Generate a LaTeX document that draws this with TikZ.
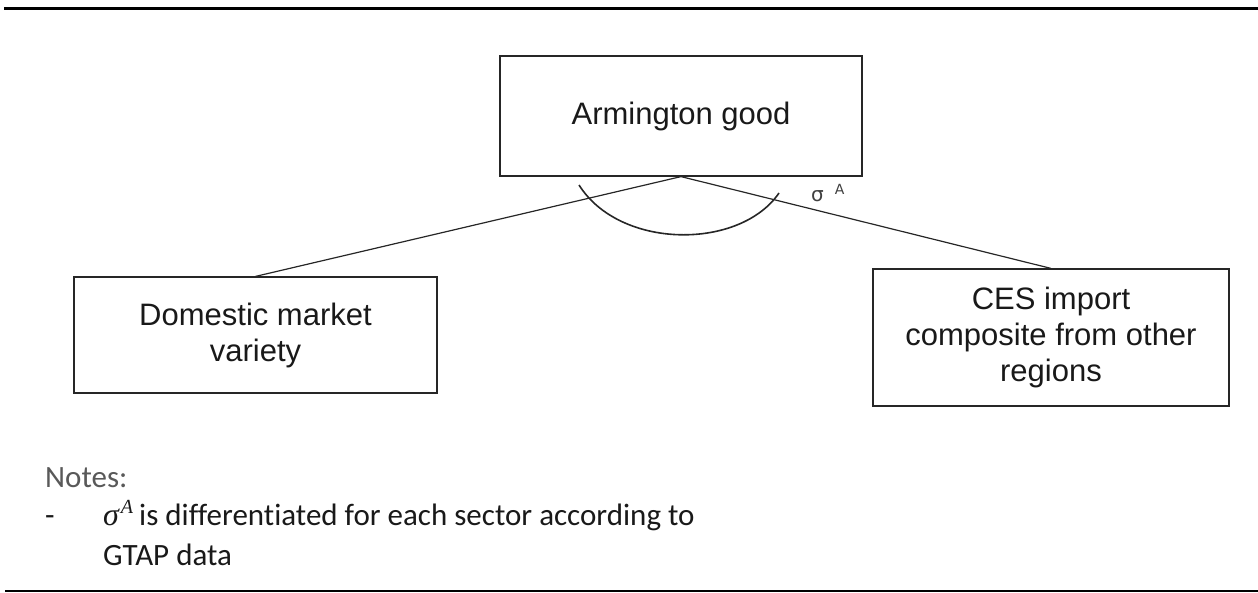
\documentclass[tikz,border=0pt]{standalone}
\usepackage{fontspec}
\setmainfont{Liberation Sans}
\newfontfamily\notesfont[Ligatures={NoCommon}]{Carlito}
\newfontfamily\dvfont{DejaVu Sans}
\newfontfamily\symitfont{Liberation Serif Italic}
\begin{document}
\begin{tikzpicture}[x=1pt,y=-1pt,
  box/.style={draw=black!85, line width=1.2pt, rectangle, inner sep=0pt, align=center,
              font=\fontsize{31}{36}\selectfont, text=black!90},
  conn/.style={draw=black!85, line width=1.2pt},
  notetext/.style={anchor=base west, inner sep=0pt, font=\notesfont\fontsize{31}{39}\selectfont}
]
\useasboundingbox (0,0) rectangle (1258,592);
% rules
\draw[line width=3pt] (4,8) -- (1258,8);
\draw[line width=1.2pt] (5,591) -- (1258,591);
% boxes
\node[box, minimum width=362pt, minimum height=120pt] (top) at (681,116) {Armington good};
\node[box, minimum width=363pt, minimum height=116pt] (left) at (255.5,335) {Domestic market\\variety};
\node[box, minimum width=356pt, minimum height=137pt] (right) at (1051,337.5) {CES import\\composite from other\\regions};
% connectors
\draw[conn] (top.south) -- (left.north);
\draw[conn] (top.south) -- (right.north);
% elasticity arc
\draw[black!85, line width=1.6pt] (579,185) .. controls (620,250) and (740,250) .. (779,193);
\node[anchor=base west, inner sep=0pt, text=black!75] (sig) at (811,201)
  {{\dvfont\fontsize{20}{20}\selectfont σ}\hspace{11pt}\raisebox{7pt}{\dvfont\fontsize{14}{14}\selectfont A}};
% notes
\node[notetext, text=black!65] (notes) at (45,487) {Notes:};
\node[notetext, text=black!90] (dash) at (45,525) {-};
\node[notetext, text=black!90] (n1) at (103,525)
  {{\symitfont\fontsize{32}{32}\selectfont σ}\hspace{2pt}\raisebox{12pt}{\symitfont\fontsize{20}{20}\selectfont A}\hspace{6pt}is differentiated for each sector according to};
\node[notetext, text=black!90] (n2) at (103,565) {GTAP data};
\end{tikzpicture}
\end{document}
